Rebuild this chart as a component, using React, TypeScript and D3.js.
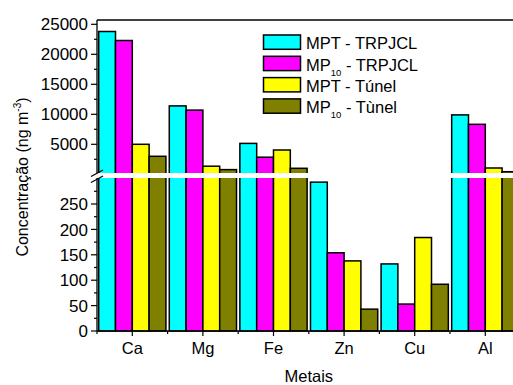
import React from 'react';
import * as d3 from 'd3';

// categories and series (ng m-3)
const metals = ['Ca', 'Mg', 'Fe', 'Zn', 'Cu', 'Al'];
const mptTrpjcl = [23800, 11400, 5150, 293, 132, 9900];
const mp10Trpjcl = [22300, 10700, 2850, 154, 53, 8330];
const mptTunel = [5000, 1350, 4050, 138, 184, 1050];
const mp10Tunel = [3000, 780, 1000, 43, 92, 430];

const upperTicks = [5000, 10000, 15000, 20000, 25000];
const upperMinor = [2500, 7500, 12500, 17500, 22500];
const lowerTicks = [0, 50, 100, 150, 200, 250];
const lowerMinor = [25, 75, 125, 175, 225, 275];

const seriesNames = ['MPT - TRPJCL', 'MP10 - TRPJCL', 'MPT - Túnel', 'MP10 - Tùnel'];
const seriesColors = ['#00ffff', '#ff00ff', '#ffff00', '#808000'];
const seriesValues = [mptTrpjcl, mp10Trpjcl, mptTunel, mp10Tunel];

const W = 513;
const H = 385;
const left = 97;
const top = 20;
const bottom = 331;
const breakTop = 173;
const breakBottom = 178;
const lowerMax = 300;
const font = '"Liberation Sans", Arial, sans-serif';

export default function App() {
  const x = d3.scaleBand<string>().domain(metals).range([left, left + 6 * 70.6]).padding(0);
  const inner = d3.scaleBand<number>()
    .domain(d3.range(seriesNames.length))
    .range([0, x.bandwidth()])
    .paddingOuter(0.1)
    .paddingInner(0);
  const yUp = d3.scaleLinear().domain([0, 25000]).range([174.3, 24.3]);
  const yLo = d3.scaleLinear().domain([0, 250]).range([bottom, 204]);

  const barTop = (v: number) => (v > lowerMax ? yUp(v) : yLo(v));

  const minorX = d3.range(metals.length + 1).map(i => left + i * x.step());

  return (
    <svg width={W} height={H} style={{ position: 'absolute', left: 0, top: 0, background: '#fff' }}
      fontFamily={font}>
      {/* bars */}
      {metals.map((m, i) => (
        <g key={m} transform={`translate(${x(m)},0)`}>
          {seriesValues.map((vals, s) => (
            <rect key={s} x={inner(s)} y={barTop(vals[i])} width={inner.bandwidth()}
              height={bottom - barTop(vals[i])} fill={seriesColors[s]} stroke="#000" strokeWidth={1.5} />
          ))}
        </g>
      ))}

      {/* axis break band */}
      <rect x={left + 1} y={breakTop} width={W} height={breakBottom - breakTop} fill="#fff" />

      {/* frame */}
      <line x1={left} x2={W} y1={top} y2={top} stroke="#000" strokeWidth={1.3} />
      <line x1={left} x2={W} y1={bottom} y2={bottom} stroke="#000" strokeWidth={1.3} />
      <line x1={left} x2={left} y1={top} y2={breakTop} stroke="#000" strokeWidth={1.3} />
      <line x1={left} x2={left} y1={breakBottom} y2={bottom} stroke="#000" strokeWidth={1.3} />
      <line x1={91} y1={176.5} x2={103} y2={170} stroke="#000" strokeWidth={1.2} />
      <line x1={91} y1={182.5} x2={103} y2={176} stroke="#000" strokeWidth={1.2} />

      {/* y ticks upper */}
      {upperTicks.map(t => (
        <g key={t} transform={`translate(0,${yUp(t)})`}>
          <line x1={left - 6} x2={left} stroke="#000" strokeWidth={1.2} />
          <text x={left - 9} dy="0.36em" textAnchor="end" fontSize={17}>{t}</text>
        </g>
      ))}
      {upperMinor.map(t => (
        <line key={t} x1={left - 3} x2={left} y1={yUp(t)} y2={yUp(t)} stroke="#000" strokeWidth={1.2} />
      ))}
      {/* y ticks lower */}
      {lowerTicks.map(t => (
        <g key={t} transform={`translate(0,${yLo(t)})`}>
          <line x1={left - 6} x2={left} stroke="#000" strokeWidth={1.2} />
          <text x={left - 9} dy="0.36em" textAnchor="end" fontSize={17}>{t}</text>
        </g>
      ))}
      {lowerMinor.map(t => (
        <line key={t} x1={left - 3} x2={left} y1={yLo(t)} y2={yLo(t)} stroke="#000" strokeWidth={1.2} />
      ))}

      {/* x ticks */}
      {metals.map(m => {
        const cx = (x(m) ?? 0) + x.bandwidth() / 2;
        return (
          <g key={m}>
            <line x1={cx} x2={cx} y1={bottom} y2={bottom + 5} stroke="#000" strokeWidth={1.2} />
            <text x={cx} y={354} textAnchor="middle" fontSize={16.5}>{m}</text>
          </g>
        );
      })}
      {minorX.map((mx, i) => (
        <line key={i} x1={mx} x2={mx} y1={bottom} y2={bottom + 3} stroke="#000" strokeWidth={1.2} />
      ))}

      {/* axis titles */}
      <text x={(left + left + 6 * 70.6) / 2} y={382} textAnchor="middle" fontSize={16.5}>Metais</text>
      <text transform="translate(28,177) rotate(-90)" textAnchor="middle" fontSize={16}>
        Concentração (ng m<tspan dy={-7} fontSize={10}>-3</tspan><tspan dy={7}>)</tspan>
      </text>

      {/* legend */}
      {seriesNames.map((name, i) => {
        const y0 = 35 + i * 21.3;
        const sub = name.startsWith('MP10');
        return (
          <g key={name}>
            <rect x={263.5} y={y0} width={37} height={14.3} fill={seriesColors[i]} stroke="#000" strokeWidth={1.5} />
            <text x={306} y={y0 + 14.3} fontSize={16.5}>
              {sub ? (
                <>
                  MP<tspan dy={5} fontSize={9.5}>10</tspan><tspan dy={-5}>{name.slice(4)}</tspan>
                </>
              ) : name}
            </text>
          </g>
        );
      })}
    </svg>
  );
}
